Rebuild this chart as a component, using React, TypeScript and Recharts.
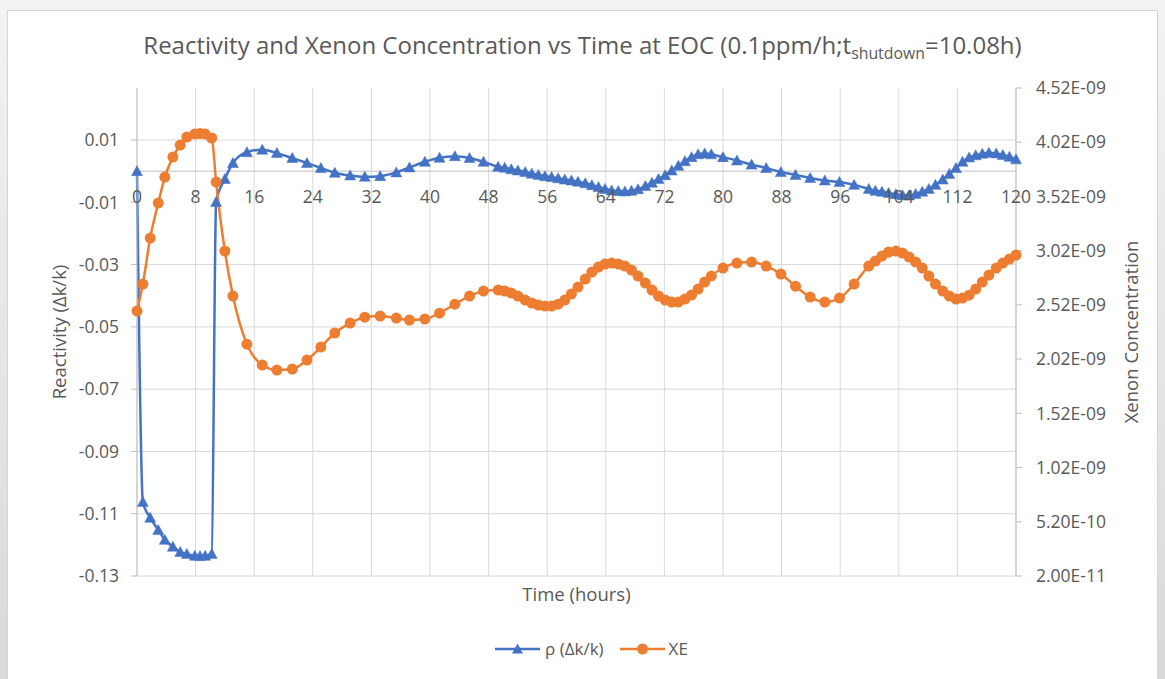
import React from 'react';
import { LineChart, Line, XAxis, YAxis, CartesianGrid, ReferenceLine, Legend } from 'recharts';

// ---- data ----
const TIME_H = [
  0, 0.8, 1.8, 2.9, 3.8, 4.9, 5.9, 6.8, 7.9, 8.6, 9.3, 10.2, 10.8, 12.0, 13.1, 15.0,
  17.1, 19.1, 21.2, 23.2, 25.1, 27.0, 29.1, 31.1, 33.2, 35.4, 37.2, 39.3, 41.3, 43.4,
  45.4, 47.3, 49.3, 50.2, 51.1, 52.0, 53.0, 53.9, 54.8, 55.7, 56.6, 57.5, 58.4, 59.3,
  60.2, 61.2, 62.1, 63.0, 63.9, 64.8, 65.7, 66.6, 67.5, 68.4, 69.4, 70.3, 71.2, 72.1,
  73.0, 73.9, 74.8, 75.7, 76.6, 77.5, 78.4, 80.0, 81.9, 83.9, 85.9, 87.9, 89.9, 91.9,
  93.9, 95.9, 97.9, 99.9, 100.8, 101.7, 102.6, 103.6, 104.5, 105.4, 106.3, 107.2, 108.1,
  109.0, 110.0, 110.9, 111.8, 112.7, 113.6, 114.5, 115.4, 116.3, 117.3, 118.2, 119.1, 120.0,
];

const RHO = [
  0, -0.1062, -0.1113, -0.1152, -0.1184, -0.1206, -0.1223, -0.1229, -0.1235, -0.1236, -0.1235,
  -0.1229, -0.0099, -0.0025, 0.0026, 0.0061, 0.0069, 0.0058, 0.0042, 0.0026, 0.0010, -0.0005,
  -0.0014, -0.0018, -0.0016, -0.0004, 0.0012, 0.0030, 0.0043, 0.0048, 0.0042, 0.0030, 0.0014,
  0.0011, 0.0006, 0.0002, -0.0003, -0.0008, -0.0012, -0.0016, -0.0019, -0.0023, -0.0027, -0.0030,
  -0.0034, -0.0039, -0.0045, -0.0051, -0.0057, -0.0062, -0.0064, -0.0065, -0.0063, -0.0058,
  -0.0048, -0.0037, -0.0025, -0.0013, 0.0002, 0.0017, 0.0032, 0.0045, 0.0054, 0.0057, 0.0054,
  0.0045, 0.0034, 0.0021, 0.0010, -0.0003, -0.0012, -0.0022, -0.0030, -0.0035, -0.0044, -0.0057,
  -0.0063, -0.0066, -0.0070, -0.0074, -0.0077, -0.0077, -0.0073, -0.0066, -0.0057, -0.0044,
  -0.0027, -0.0009, 0.0010, 0.0030, 0.0044, 0.0051, 0.0056, 0.0059, 0.0057, 0.0052, 0.0046, 0.0038,
];

// Xenon concentration, in units of 1E-09
const XE_E9 = [
  2.463, 2.712, 3.136, 3.459, 3.699, 3.883, 3.994, 4.068, 4.096, 4.100, 4.096, 4.059, 3.653,
  3.016, 2.601, 2.158, 1.965, 1.919, 1.928, 2.011, 2.131, 2.260, 2.352, 2.407, 2.417, 2.398,
  2.380, 2.389, 2.444, 2.527, 2.601, 2.647, 2.657, 2.647, 2.629, 2.601, 2.564, 2.537, 2.518,
  2.509, 2.509, 2.527, 2.564, 2.620, 2.684, 2.758, 2.823, 2.869, 2.896, 2.906, 2.896, 2.878,
  2.841, 2.786, 2.721, 2.657, 2.601, 2.564, 2.546, 2.546, 2.574, 2.611, 2.666, 2.730, 2.786,
  2.860, 2.906, 2.915, 2.878, 2.804, 2.693, 2.592, 2.546, 2.583, 2.712, 2.878, 2.924, 2.970,
  3.007, 3.016, 2.998, 2.961, 2.915, 2.860, 2.786, 2.712, 2.647, 2.601, 2.574, 2.583, 2.610,
  2.666, 2.730, 2.795, 2.860, 2.906, 2.943, 2.980,
];

const SERIES_ORDER = ['rho', 'xe'];
const X_TICKS = [0, 8, 16, 24, 32, 40, 48, 56, 64, 72, 80, 88, 96, 104, 112, 120];
const RHO_TICKS = [-0.13, -0.11, -0.09, -0.07, -0.05, -0.03, -0.01, 0.01];
const RHO_GRID = [-0.13, -0.11, -0.09, -0.07, -0.05, -0.03, 0.01];
const XE_TICKS = [2e-11, 5.2e-10, 1.02e-9, 1.52e-9, 2.02e-9, 2.52e-9, 3.02e-9, 3.52e-9, 4.02e-9, 4.52e-9];
const RHO_DOMAIN: [number, number] = [-0.13, 0.0267];
const XE_DOMAIN: [number, number] = [2e-11, 4.52e-9];

const data = TIME_H.map((t, i) => ({ t, rho: RHO[i], xe: XE_E9[i] * 1e-9 }));

// ---- styling / layout ----
const FONT = '"Open Sans", "Noto Sans", sans-serif';
const TEXT = '#595959';
const BLUE = '#4472C4';
const ORANGE = '#ED7D31';
const GRID = '#d9d9d9';
const AXIS = '#bfbfbf';

const CHART_W = 1149;
const CHART_H = 668;
const MARGIN_TOP = 77;
const LEFT_W = 129;
const RIGHT_W = 141;
const XAXIS_H = 103;
const PLOT_H = CHART_H - MARGIN_TOP - XAXIS_H;
const PLOT_W = CHART_W - LEFT_W - RIGHT_W;
const ZERO_Y = MARGIN_TOP + (PLOT_H * (RHO_DOMAIN[1] - 0)) / (RHO_DOMAIN[1] - RHO_DOMAIN[0]);

const fmtRho = (v: number) => v.toFixed(2);
const fmtXe = (v: number) => {
  const [m, e] = v.toExponential(2).split('e');
  const n = parseInt(e, 10);
  return `${m}E${n < 0 ? '-' : '+'}${String(Math.abs(n)).padStart(2, '0')}`;
};

const triPath = (cx: number, cy: number) =>
  `M${cx},${cy - 5.5}L${cx + 5.5},${cy + 4.5}L${cx - 5.5},${cy + 4.5}Z`;

const renderTriangle = (p: any) => {
  const { cx, cy, index } = p;
  if (cx == null || cy == null) return <g key={`tri-${index}`} />;
  return <path key={`tri-${index}`} d={triPath(cx, cy)} fill={BLUE} stroke={BLUE} strokeWidth={0.5} />;
};

const XTick = (props: any) => {
  const { x, payload } = props;
  return (
    <text
      x={x}
      y={ZERO_Y + 25}
      textAnchor="middle"
      dominantBaseline="central"
      fill={TEXT}
      fontSize={17.5}
      fontFamily={FONT}
    >
      {payload.value}
    </text>
  );
};

const XLabel = () => (
  <text
    x={LEFT_W + PLOT_W / 2}
    y={MARGIN_TOP + PLOT_H + 17}
    textAnchor="middle"
    dominantBaseline="central"
    fill={TEXT}
    fontSize={18.5}
    fontFamily={FONT}
  >
    Time (hours)
  </text>
);

const LeftLabel = () => {
  const x = 50;
  const y = MARGIN_TOP + PLOT_H / 2;
  return (
    <text
      x={x}
      y={y}
      transform={`rotate(-90 ${x} ${y})`}
      textAnchor="middle"
      dominantBaseline="central"
      fill={TEXT}
      fontSize={18.5}
      fontFamily={FONT}
    >
      Reactivity (Δk/k)
    </text>
  );
};

const RightLabel = () => {
  const x = LEFT_W + PLOT_W + 114;
  const y = MARGIN_TOP + PLOT_H / 2;
  return (
    <text
      x={x}
      y={y}
      transform={`rotate(-90 ${x} ${y})`}
      textAnchor="middle"
      dominantBaseline="central"
      fill={TEXT}
      fontSize={18.5}
      fontFamily={FONT}
    >
      Xenon Concentration
    </text>
  );
};

const LegendContent = (props: any) => {
  const payload = [...(props.payload || [])].sort(
    (a: any, b: any) => SERIES_ORDER.indexOf(a.dataKey) - SERIES_ORDER.indexOf(b.dataKey)
  );
  return (
    <div style={{ display: 'flex', alignItems: 'center', fontFamily: FONT, fontSize: 17, color: TEXT }}>
      {payload.map((entry: any, i: number) => {
        const isRho = entry.dataKey === 'rho';
        const color = isRho ? BLUE : ORANGE;
        return (
          <div key={i} style={{ display: 'flex', alignItems: 'center', marginRight: i === 0 ? 16 : 0 }}>
            <svg width={45} height={14} style={{ display: 'block' }}>
              <line x1={0} y1={7} x2={45} y2={7} stroke={color} strokeWidth={2.5} />
              {isRho ? (
                <path d={triPath(22.5, 7)} fill={color} />
              ) : (
                <circle cx={22.5} cy={7} r={5.5} fill={color} />
              )}
            </svg>
            <span style={{ marginLeft: isRho ? 5 : 4, lineHeight: '24px' }}>{entry.value}</span>
          </div>
        );
      })}
    </div>
  );
};

export default function App() {
  return (
    <div
      style={{
        position: 'absolute',
        left: 0,
        top: 0,
        width: 1165,
        height: 679,
        overflow: 'hidden',
        background: 'linear-gradient(to bottom, #f3f3f3, #d9d9d9)',
      }}
    >
      <div
        style={{
          position: 'absolute',
          left: 7,
          top: 10,
          width: 1151,
          height: 690,
          boxSizing: 'border-box',
          background: '#ffffff',
          border: '1px solid #d4d4d4',
        }}
      >
        <div
          style={{
            position: 'absolute',
            left: 0,
            top: 18,
            width: CHART_W,
            textAlign: 'center',
            fontFamily: FONT,
            fontSize: 24,
            lineHeight: '32px',
            color: TEXT,
            whiteSpace: 'nowrap',
            zIndex: 2,
          }}
        >
          Reactivity and Xenon Concentration vs Time at EOC (0.1ppm/h;t
          <span style={{ fontSize: '0.66em', verticalAlign: '-0.3em' }}>shutdown</span>
          =10.08h)
        </div>
        <LineChart
          width={CHART_W}
          height={CHART_H}
          data={data}
          margin={{ top: MARGIN_TOP, right: 0, bottom: 0, left: 0 }}
        >
          <CartesianGrid
            yAxisId="left"
            stroke={GRID}
            strokeWidth={1}
            horizontalValues={RHO_GRID}
            verticalValues={X_TICKS}
          />
          <XAxis
            dataKey="t"
            type="number"
            domain={[0, 120]}
            ticks={X_TICKS}
            interval={0}
            axisLine={false}
            tickLine={false}
            height={XAXIS_H}
            tick={XTick}
            label={<XLabel />}
          />
          <YAxis
            yAxisId="left"
            orientation="left"
            type="number"
            domain={RHO_DOMAIN}
            ticks={RHO_TICKS}
            interval={0}
            width={LEFT_W}
            tickFormatter={fmtRho}
            tick={{ fill: TEXT, fontSize: 17.5, fontFamily: FONT }}
            tickSize={6}
            tickMargin={12}
            axisLine={{ stroke: AXIS }}
            tickLine={{ stroke: AXIS }}
            allowDataOverflow
            label={<LeftLabel />}
          />
          <YAxis
            yAxisId="right"
            orientation="right"
            type="number"
            domain={XE_DOMAIN}
            ticks={XE_TICKS}
            interval={0}
            width={RIGHT_W}
            tickFormatter={fmtXe}
            tick={{ fill: TEXT, fontSize: 17.5, fontFamily: FONT }}
            tickSize={6}
            tickMargin={14}
            axisLine={{ stroke: AXIS }}
            tickLine={{ stroke: AXIS }}
            allowDataOverflow
            label={<RightLabel />}
          />
          <ReferenceLine yAxisId="left" y={0} stroke={AXIS} strokeWidth={1} />
          <Legend
            verticalAlign="middle"
            align="center"
            layout="horizontal"
            wrapperStyle={{ top: 626, left: 487, width: 'auto' }}
            content={<LegendContent />}
          />
          <Line
            yAxisId="left"
            dataKey="rho"
            name="ρ (Δk/k)"
            type="monotone"
            stroke={BLUE}
            strokeWidth={2.5}
            dot={renderTriangle}
            activeDot={false}
            isAnimationActive={false}
          />
          <Line
            yAxisId="right"
            dataKey="xe"
            name="XE"
            type="monotone"
            stroke={ORANGE}
            strokeWidth={2.5}
            dot={{ r: 5.5, fill: ORANGE, stroke: ORANGE, strokeWidth: 0 }}
            activeDot={false}
            isAnimationActive={false}
          />
        </LineChart>
      </div>
    </div>
  );
}
